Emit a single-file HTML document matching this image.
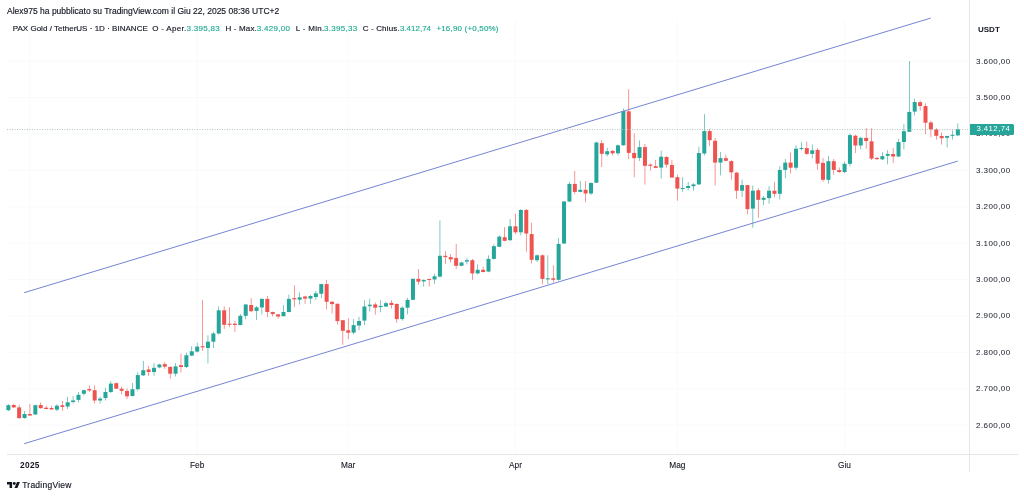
<!DOCTYPE html>
<html><head><meta charset="utf-8"><style>
html,body{margin:0;padding:0;background:#fff;width:1024px;height:497px;overflow:hidden;position:relative;font-family:"Liberation Sans",sans-serif;color:#131722}
.t{position:absolute;white-space:pre;line-height:1;-webkit-text-stroke:0.15px currentColor}
.g{color:#22ab94}
</style></head><body>
<div style="position:absolute;left:0;top:0;width:1024px;height:497px;filter:blur(0.35px)">
<svg width="1024" height="497" style="position:absolute;left:0;top:0">
<line x1="7" y1="454.5" x2="1018" y2="454.5" stroke="#e4e5e9" stroke-width="1"/>
<line x1="969.5" y1="0" x2="969.5" y2="472" stroke="#e4e5e9" stroke-width="1"/>
<line x1="7" y1="61.2" x2="969" y2="61.2" stroke="#f9fafb" stroke-width="1"/>
<line x1="7" y1="97.59" x2="969" y2="97.59" stroke="#f9fafb" stroke-width="1"/>
<line x1="7" y1="133.98" x2="969" y2="133.98" stroke="#f9fafb" stroke-width="1"/>
<line x1="7" y1="170.37" x2="969" y2="170.37" stroke="#f9fafb" stroke-width="1"/>
<line x1="7" y1="206.76" x2="969" y2="206.76" stroke="#f9fafb" stroke-width="1"/>
<line x1="7" y1="243.15" x2="969" y2="243.15" stroke="#f9fafb" stroke-width="1"/>
<line x1="7" y1="279.54" x2="969" y2="279.54" stroke="#f9fafb" stroke-width="1"/>
<line x1="7" y1="315.93" x2="969" y2="315.93" stroke="#f9fafb" stroke-width="1"/>
<line x1="7" y1="352.32" x2="969" y2="352.32" stroke="#f9fafb" stroke-width="1"/>
<line x1="7" y1="388.71" x2="969" y2="388.71" stroke="#f9fafb" stroke-width="1"/>
<line x1="7" y1="425.1" x2="969" y2="425.1" stroke="#f9fafb" stroke-width="1"/>
<line x1="29.8" y1="20" x2="29.8" y2="454" stroke="#f9fafb" stroke-width="1"/>
<line x1="197.2" y1="20" x2="197.2" y2="454" stroke="#f9fafb" stroke-width="1"/>
<line x1="348.2" y1="20" x2="348.2" y2="454" stroke="#f9fafb" stroke-width="1"/>
<line x1="515.5" y1="20" x2="515.5" y2="454" stroke="#f9fafb" stroke-width="1"/>
<line x1="677.5" y1="20" x2="677.5" y2="454" stroke="#f9fafb" stroke-width="1"/>
<line x1="844.5" y1="20" x2="844.5" y2="454" stroke="#f9fafb" stroke-width="1"/>
<rect x="8.05" y="404.20" width="0.6" height="6.80" fill="#26a69a"/>
<rect x="6.35" y="405.20" width="4" height="5.00" fill="#26a69a"/>
<rect x="13.45" y="404.20" width="0.6" height="3.80" fill="#ef5350"/>
<rect x="11.75" y="405.00" width="4" height="2.40" fill="#ef5350"/>
<rect x="18.84" y="404.70" width="0.6" height="14.10" fill="#ef5350"/>
<rect x="17.14" y="407.40" width="4" height="10.70" fill="#ef5350"/>
<rect x="24.23" y="411.00" width="0.6" height="7.80" fill="#26a69a"/>
<rect x="22.54" y="414.00" width="4" height="4.00" fill="#26a69a"/>
<rect x="29.63" y="404.00" width="0.6" height="11.80" fill="#ef5350"/>
<rect x="27.93" y="414.00" width="4" height="1.50" fill="#ef5350"/>
<rect x="35.03" y="404.70" width="0.6" height="10.10" fill="#26a69a"/>
<rect x="33.33" y="405.20" width="4" height="9.30" fill="#26a69a"/>
<rect x="40.42" y="402.40" width="0.6" height="6.10" fill="#ef5350"/>
<rect x="38.72" y="405.00" width="4" height="3.20" fill="#ef5350"/>
<rect x="45.81" y="405.70" width="0.6" height="3.50" fill="#ef5350"/>
<rect x="44.11" y="407.70" width="4" height="1.30" fill="#ef5350"/>
<rect x="51.21" y="405.70" width="0.6" height="4.00" fill="#ef5350"/>
<rect x="49.51" y="408.00" width="4" height="1.40" fill="#ef5350"/>
<rect x="56.61" y="404.20" width="0.6" height="7.00" fill="#26a69a"/>
<rect x="54.91" y="405.70" width="4" height="4.00" fill="#26a69a"/>
<rect x="62.00" y="401.00" width="0.6" height="9.70" fill="#ef5350"/>
<rect x="60.30" y="405.30" width="4" height="1.60" fill="#ef5350"/>
<rect x="67.39" y="396.80" width="0.6" height="12.10" fill="#26a69a"/>
<rect x="65.69" y="402.30" width="4" height="4.20" fill="#26a69a"/>
<rect x="72.79" y="396.20" width="0.6" height="7.30" fill="#26a69a"/>
<rect x="71.09" y="400.50" width="4" height="1.50" fill="#26a69a"/>
<rect x="78.18" y="392.00" width="0.6" height="10.30" fill="#26a69a"/>
<rect x="76.48" y="394.80" width="4" height="5.10" fill="#26a69a"/>
<rect x="83.58" y="389.60" width="0.6" height="6.00" fill="#26a69a"/>
<rect x="81.88" y="390.20" width="4" height="3.60" fill="#26a69a"/>
<rect x="88.98" y="385.40" width="0.6" height="6.60" fill="#ef5350"/>
<rect x="87.28" y="389.00" width="4" height="1.40" fill="#ef5350"/>
<rect x="94.37" y="385.40" width="0.6" height="18.10" fill="#ef5350"/>
<rect x="92.67" y="390.20" width="4" height="10.30" fill="#ef5350"/>
<rect x="99.77" y="396.80" width="0.6" height="6.70" fill="#26a69a"/>
<rect x="98.06" y="398.60" width="4" height="1.90" fill="#26a69a"/>
<rect x="105.16" y="387.80" width="0.6" height="12.70" fill="#26a69a"/>
<rect x="103.46" y="392.00" width="4" height="6.00" fill="#26a69a"/>
<rect x="110.55" y="381.10" width="0.6" height="12.10" fill="#26a69a"/>
<rect x="108.85" y="383.60" width="4" height="8.40" fill="#26a69a"/>
<rect x="115.95" y="382.50" width="0.6" height="6.50" fill="#ef5350"/>
<rect x="114.25" y="383.20" width="4" height="5.50" fill="#ef5350"/>
<rect x="121.34" y="386.60" width="0.6" height="7.80" fill="#ef5350"/>
<rect x="119.64" y="388.70" width="4" height="2.10" fill="#ef5350"/>
<rect x="126.74" y="388.50" width="0.6" height="10.60" fill="#ef5350"/>
<rect x="125.04" y="390.90" width="4" height="5.40" fill="#ef5350"/>
<rect x="132.13" y="382.90" width="0.6" height="13.60" fill="#26a69a"/>
<rect x="130.44" y="389.20" width="4" height="6.80" fill="#26a69a"/>
<rect x="137.53" y="372.30" width="0.6" height="18.30" fill="#26a69a"/>
<rect x="135.83" y="375.10" width="4" height="14.10" fill="#26a69a"/>
<rect x="142.92" y="361.00" width="0.6" height="14.80" fill="#26a69a"/>
<rect x="141.22" y="370.20" width="4" height="5.20" fill="#26a69a"/>
<rect x="148.32" y="366.00" width="0.6" height="9.80" fill="#ef5350"/>
<rect x="146.62" y="369.50" width="4" height="2.50" fill="#ef5350"/>
<rect x="153.71" y="363.10" width="0.6" height="12.70" fill="#26a69a"/>
<rect x="152.01" y="367.80" width="4" height="4.20" fill="#26a69a"/>
<rect x="159.11" y="363.80" width="0.6" height="4.50" fill="#26a69a"/>
<rect x="157.41" y="364.50" width="4" height="2.90" fill="#26a69a"/>
<rect x="164.50" y="362.10" width="0.6" height="6.70" fill="#ef5350"/>
<rect x="162.81" y="364.10" width="4" height="2.60" fill="#ef5350"/>
<rect x="169.90" y="366.40" width="0.6" height="12.20" fill="#ef5350"/>
<rect x="168.20" y="366.90" width="4" height="6.80" fill="#ef5350"/>
<rect x="175.29" y="363.10" width="0.6" height="13.40" fill="#26a69a"/>
<rect x="173.59" y="366.40" width="4" height="7.30" fill="#26a69a"/>
<rect x="180.69" y="353.50" width="0.6" height="19.00" fill="#ef5350"/>
<rect x="178.99" y="365.20" width="4" height="1.80" fill="#ef5350"/>
<rect x="186.08" y="352.50" width="0.6" height="15.50" fill="#26a69a"/>
<rect x="184.38" y="355.30" width="4" height="11.70" fill="#26a69a"/>
<rect x="191.48" y="346.20" width="0.6" height="10.00" fill="#26a69a"/>
<rect x="189.78" y="351.30" width="4" height="4.30" fill="#26a69a"/>
<rect x="196.87" y="342.60" width="0.6" height="9.90" fill="#26a69a"/>
<rect x="195.17" y="346.60" width="4" height="5.00" fill="#26a69a"/>
<rect x="202.27" y="300.00" width="0.6" height="50.70" fill="#ef5350"/>
<rect x="200.57" y="346.20" width="4" height="1.10" fill="#ef5350"/>
<rect x="207.66" y="335.30" width="0.6" height="28.10" fill="#26a69a"/>
<rect x="205.97" y="341.70" width="4" height="6.30" fill="#26a69a"/>
<rect x="213.06" y="331.70" width="0.6" height="16.30" fill="#26a69a"/>
<rect x="211.36" y="333.50" width="4" height="8.20" fill="#26a69a"/>
<rect x="218.45" y="306.30" width="0.6" height="28.10" fill="#26a69a"/>
<rect x="216.75" y="310.30" width="4" height="23.20" fill="#26a69a"/>
<rect x="223.85" y="306.30" width="0.6" height="22.70" fill="#ef5350"/>
<rect x="222.15" y="310.30" width="4" height="14.50" fill="#ef5350"/>
<rect x="229.24" y="307.20" width="0.6" height="20.00" fill="#ef5350"/>
<rect x="227.54" y="323.70" width="4" height="1.10" fill="#ef5350"/>
<rect x="234.64" y="321.00" width="0.6" height="11.00" fill="#ef5350"/>
<rect x="232.94" y="323.70" width="4" height="1.30" fill="#ef5350"/>
<rect x="240.03" y="314.00" width="0.6" height="11.30" fill="#26a69a"/>
<rect x="238.33" y="315.80" width="4" height="9.20" fill="#26a69a"/>
<rect x="245.43" y="303.80" width="0.6" height="15.50" fill="#26a69a"/>
<rect x="243.73" y="304.50" width="4" height="11.30" fill="#26a69a"/>
<rect x="250.82" y="298.20" width="0.6" height="14.10" fill="#ef5350"/>
<rect x="249.12" y="305.00" width="4" height="6.20" fill="#ef5350"/>
<rect x="256.22" y="306.00" width="0.6" height="14.00" fill="#26a69a"/>
<rect x="254.52" y="307.40" width="4" height="3.50" fill="#26a69a"/>
<rect x="261.61" y="298.20" width="0.6" height="16.20" fill="#26a69a"/>
<rect x="259.91" y="298.90" width="4" height="8.50" fill="#26a69a"/>
<rect x="267.01" y="296.10" width="0.6" height="21.10" fill="#ef5350"/>
<rect x="265.31" y="298.90" width="4" height="13.10" fill="#ef5350"/>
<rect x="272.40" y="311.60" width="0.6" height="4.90" fill="#ef5350"/>
<rect x="270.70" y="312.00" width="4" height="2.00" fill="#ef5350"/>
<rect x="277.80" y="314.00" width="0.6" height="4.60" fill="#ef5350"/>
<rect x="276.10" y="314.40" width="4" height="2.10" fill="#ef5350"/>
<rect x="283.19" y="305.00" width="0.6" height="11.50" fill="#26a69a"/>
<rect x="281.49" y="312.00" width="4" height="4.20" fill="#26a69a"/>
<rect x="288.59" y="294.70" width="0.6" height="17.60" fill="#26a69a"/>
<rect x="286.89" y="298.90" width="4" height="13.10" fill="#26a69a"/>
<rect x="293.98" y="285.30" width="0.6" height="21.70" fill="#ef5350"/>
<rect x="292.28" y="298.10" width="4" height="1.20" fill="#ef5350"/>
<rect x="299.38" y="292.50" width="0.6" height="12.10" fill="#26a69a"/>
<rect x="297.68" y="297.30" width="4" height="2.40" fill="#26a69a"/>
<rect x="304.77" y="295.70" width="0.6" height="8.10" fill="#ef5350"/>
<rect x="303.07" y="296.50" width="4" height="2.10" fill="#ef5350"/>
<rect x="310.17" y="295.00" width="0.6" height="8.80" fill="#26a69a"/>
<rect x="308.47" y="296.00" width="4" height="2.60" fill="#26a69a"/>
<rect x="315.56" y="290.90" width="0.6" height="8.80" fill="#26a69a"/>
<rect x="313.87" y="293.30" width="4" height="3.70" fill="#26a69a"/>
<rect x="320.96" y="283.70" width="0.6" height="14.40" fill="#26a69a"/>
<rect x="319.26" y="284.10" width="4" height="9.70" fill="#26a69a"/>
<rect x="326.35" y="280.00" width="0.6" height="29.40" fill="#ef5350"/>
<rect x="324.65" y="284.10" width="4" height="17.70" fill="#ef5350"/>
<rect x="331.75" y="300.90" width="0.6" height="12.50" fill="#ef5350"/>
<rect x="330.05" y="301.80" width="4" height="2.30" fill="#ef5350"/>
<rect x="337.14" y="303.40" width="0.6" height="21.30" fill="#ef5350"/>
<rect x="335.44" y="303.80" width="4" height="17.30" fill="#ef5350"/>
<rect x="342.54" y="319.80" width="0.6" height="25.00" fill="#ef5350"/>
<rect x="340.84" y="320.20" width="4" height="10.60" fill="#ef5350"/>
<rect x="347.93" y="318.20" width="0.6" height="20.90" fill="#ef5350"/>
<rect x="346.23" y="330.30" width="4" height="2.40" fill="#ef5350"/>
<rect x="353.33" y="319.10" width="0.6" height="15.10" fill="#26a69a"/>
<rect x="351.63" y="325.10" width="4" height="7.50" fill="#26a69a"/>
<rect x="358.72" y="316.80" width="0.6" height="13.60" fill="#26a69a"/>
<rect x="357.02" y="321.00" width="4" height="4.50" fill="#26a69a"/>
<rect x="364.12" y="300.20" width="0.6" height="24.90" fill="#26a69a"/>
<rect x="362.42" y="306.50" width="4" height="14.10" fill="#26a69a"/>
<rect x="369.51" y="298.70" width="0.6" height="12.80" fill="#26a69a"/>
<rect x="367.81" y="304.70" width="4" height="1.50" fill="#26a69a"/>
<rect x="374.91" y="302.50" width="0.6" height="12.00" fill="#ef5350"/>
<rect x="373.21" y="304.40" width="4" height="3.30" fill="#ef5350"/>
<rect x="380.30" y="300.20" width="0.6" height="12.10" fill="#26a69a"/>
<rect x="378.60" y="305.90" width="4" height="1.20" fill="#26a69a"/>
<rect x="385.70" y="301.70" width="0.6" height="5.30" fill="#26a69a"/>
<rect x="384.00" y="303.20" width="4" height="3.30" fill="#26a69a"/>
<rect x="391.09" y="300.20" width="0.6" height="8.30" fill="#ef5350"/>
<rect x="389.39" y="302.90" width="4" height="2.10" fill="#ef5350"/>
<rect x="396.49" y="303.20" width="0.6" height="19.60" fill="#ef5350"/>
<rect x="394.79" y="304.00" width="4" height="15.10" fill="#ef5350"/>
<rect x="401.88" y="306.20" width="0.6" height="14.40" fill="#26a69a"/>
<rect x="400.19" y="307.70" width="4" height="11.40" fill="#26a69a"/>
<rect x="407.28" y="297.90" width="0.6" height="16.60" fill="#26a69a"/>
<rect x="405.58" y="299.90" width="4" height="7.80" fill="#26a69a"/>
<rect x="412.67" y="278.50" width="0.6" height="21.70" fill="#26a69a"/>
<rect x="410.97" y="278.80" width="4" height="21.00" fill="#26a69a"/>
<rect x="418.07" y="269.00" width="0.6" height="15.80" fill="#ef5350"/>
<rect x="416.37" y="278.80" width="4" height="2.90" fill="#ef5350"/>
<rect x="423.46" y="279.40" width="0.6" height="7.20" fill="#26a69a"/>
<rect x="421.76" y="279.90" width="4" height="1.50" fill="#26a69a"/>
<rect x="428.86" y="278.50" width="0.6" height="8.10" fill="#ef5350"/>
<rect x="427.16" y="279.00" width="4" height="1.00" fill="#ef5350"/>
<rect x="434.25" y="273.90" width="0.6" height="10.00" fill="#26a69a"/>
<rect x="432.55" y="276.30" width="4" height="3.10" fill="#26a69a"/>
<rect x="439.65" y="220.40" width="0.6" height="57.10" fill="#26a69a"/>
<rect x="437.95" y="255.80" width="4" height="20.80" fill="#26a69a"/>
<rect x="445.04" y="251.30" width="0.6" height="12.70" fill="#ef5350"/>
<rect x="443.34" y="255.80" width="4" height="1.30" fill="#ef5350"/>
<rect x="450.44" y="254.00" width="0.6" height="8.50" fill="#ef5350"/>
<rect x="448.74" y="257.10" width="4" height="2.30" fill="#ef5350"/>
<rect x="455.83" y="244.00" width="0.6" height="25.00" fill="#ef5350"/>
<rect x="454.13" y="258.10" width="4" height="7.70" fill="#ef5350"/>
<rect x="461.23" y="261.80" width="0.6" height="4.30" fill="#26a69a"/>
<rect x="459.53" y="262.50" width="4" height="3.30" fill="#26a69a"/>
<rect x="466.62" y="258.00" width="0.6" height="6.40" fill="#26a69a"/>
<rect x="464.92" y="260.20" width="4" height="1.40" fill="#26a69a"/>
<rect x="472.02" y="258.90" width="0.6" height="20.90" fill="#ef5350"/>
<rect x="470.32" y="260.20" width="4" height="13.20" fill="#ef5350"/>
<rect x="477.41" y="264.40" width="0.6" height="9.90" fill="#26a69a"/>
<rect x="475.71" y="269.80" width="4" height="3.60" fill="#26a69a"/>
<rect x="482.81" y="266.70" width="0.6" height="5.80" fill="#ef5350"/>
<rect x="481.11" y="269.80" width="4" height="2.20" fill="#ef5350"/>
<rect x="488.20" y="255.30" width="0.6" height="16.90" fill="#26a69a"/>
<rect x="486.50" y="258.90" width="4" height="12.70" fill="#26a69a"/>
<rect x="493.60" y="244.40" width="0.6" height="15.10" fill="#26a69a"/>
<rect x="491.90" y="246.20" width="4" height="12.70" fill="#26a69a"/>
<rect x="498.99" y="235.40" width="0.6" height="11.70" fill="#26a69a"/>
<rect x="497.29" y="236.60" width="4" height="10.20" fill="#26a69a"/>
<rect x="504.39" y="227.20" width="0.6" height="14.10" fill="#ef5350"/>
<rect x="502.69" y="237.20" width="4" height="3.60" fill="#ef5350"/>
<rect x="509.78" y="219.00" width="0.6" height="21.80" fill="#26a69a"/>
<rect x="508.08" y="226.30" width="4" height="13.90" fill="#26a69a"/>
<rect x="515.18" y="213.60" width="0.6" height="20.50" fill="#ef5350"/>
<rect x="513.48" y="226.30" width="4" height="6.00" fill="#ef5350"/>
<rect x="520.57" y="209.00" width="0.6" height="26.40" fill="#26a69a"/>
<rect x="518.87" y="210.00" width="4" height="22.30" fill="#26a69a"/>
<rect x="525.97" y="209.00" width="0.6" height="42.70" fill="#ef5350"/>
<rect x="524.27" y="210.00" width="4" height="23.50" fill="#ef5350"/>
<rect x="531.37" y="222.70" width="0.6" height="40.80" fill="#ef5350"/>
<rect x="529.66" y="234.10" width="4" height="25.70" fill="#ef5350"/>
<rect x="536.76" y="254.40" width="0.6" height="7.60" fill="#26a69a"/>
<rect x="535.06" y="255.30" width="4" height="4.90" fill="#26a69a"/>
<rect x="542.15" y="254.40" width="0.6" height="29.90" fill="#ef5350"/>
<rect x="540.45" y="255.30" width="4" height="23.60" fill="#ef5350"/>
<rect x="547.55" y="255.30" width="0.6" height="29.00" fill="#26a69a"/>
<rect x="545.85" y="278.30" width="4" height="1.10" fill="#26a69a"/>
<rect x="552.94" y="265.30" width="0.6" height="17.20" fill="#ef5350"/>
<rect x="551.24" y="278.30" width="4" height="1.50" fill="#ef5350"/>
<rect x="558.34" y="238.10" width="0.6" height="42.60" fill="#26a69a"/>
<rect x="556.64" y="243.90" width="4" height="35.90" fill="#26a69a"/>
<rect x="563.73" y="200.90" width="0.6" height="43.00" fill="#26a69a"/>
<rect x="562.03" y="201.50" width="4" height="42.00" fill="#26a69a"/>
<rect x="569.13" y="181.80" width="0.6" height="20.20" fill="#26a69a"/>
<rect x="567.43" y="183.90" width="4" height="17.60" fill="#26a69a"/>
<rect x="574.52" y="171.00" width="0.6" height="23.30" fill="#ef5350"/>
<rect x="572.82" y="183.90" width="4" height="8.00" fill="#ef5350"/>
<rect x="579.92" y="181.10" width="0.6" height="11.30" fill="#26a69a"/>
<rect x="578.22" y="189.80" width="4" height="2.10" fill="#26a69a"/>
<rect x="585.31" y="181.10" width="0.6" height="21.20" fill="#ef5350"/>
<rect x="583.61" y="189.80" width="4" height="3.70" fill="#ef5350"/>
<rect x="590.71" y="182.30" width="0.6" height="12.80" fill="#26a69a"/>
<rect x="589.01" y="183.00" width="4" height="10.50" fill="#26a69a"/>
<rect x="596.10" y="141.60" width="0.6" height="41.40" fill="#26a69a"/>
<rect x="594.40" y="142.50" width="4" height="40.20" fill="#26a69a"/>
<rect x="601.50" y="140.00" width="0.6" height="27.00" fill="#ef5350"/>
<rect x="599.80" y="143.20" width="4" height="10.60" fill="#ef5350"/>
<rect x="606.89" y="147.70" width="0.6" height="8.80" fill="#26a69a"/>
<rect x="605.19" y="151.20" width="4" height="3.20" fill="#26a69a"/>
<rect x="612.29" y="150.10" width="0.6" height="5.30" fill="#ef5350"/>
<rect x="610.59" y="150.90" width="4" height="2.40" fill="#ef5350"/>
<rect x="617.68" y="144.50" width="0.6" height="10.90" fill="#26a69a"/>
<rect x="615.98" y="145.30" width="4" height="8.00" fill="#26a69a"/>
<rect x="623.08" y="108.50" width="0.6" height="37.10" fill="#26a69a"/>
<rect x="621.38" y="111.00" width="4" height="34.30" fill="#26a69a"/>
<rect x="628.47" y="89.20" width="0.6" height="70.00" fill="#ef5350"/>
<rect x="626.77" y="111.30" width="4" height="41.60" fill="#ef5350"/>
<rect x="633.87" y="133.30" width="0.6" height="44.00" fill="#ef5350"/>
<rect x="632.17" y="152.90" width="4" height="5.30" fill="#ef5350"/>
<rect x="639.26" y="140.40" width="0.6" height="20.60" fill="#26a69a"/>
<rect x="637.56" y="147.10" width="4" height="10.80" fill="#26a69a"/>
<rect x="644.66" y="144.00" width="0.6" height="40.50" fill="#ef5350"/>
<rect x="642.96" y="147.10" width="4" height="18.70" fill="#ef5350"/>
<rect x="650.05" y="163.40" width="0.6" height="7.20" fill="#ef5350"/>
<rect x="648.35" y="164.60" width="4" height="1.20" fill="#ef5350"/>
<rect x="655.45" y="159.80" width="0.6" height="8.40" fill="#ef5350"/>
<rect x="653.75" y="166.20" width="4" height="1.70" fill="#ef5350"/>
<rect x="660.84" y="150.70" width="0.6" height="27.80" fill="#26a69a"/>
<rect x="659.14" y="156.70" width="4" height="10.90" fill="#26a69a"/>
<rect x="666.24" y="156.10" width="0.6" height="11.50" fill="#ef5350"/>
<rect x="664.54" y="157.00" width="4" height="7.60" fill="#ef5350"/>
<rect x="671.63" y="159.80" width="0.6" height="18.10" fill="#ef5350"/>
<rect x="669.93" y="165.00" width="4" height="12.50" fill="#ef5350"/>
<rect x="677.03" y="174.80" width="0.6" height="25.90" fill="#ef5350"/>
<rect x="675.33" y="177.20" width="4" height="11.40" fill="#ef5350"/>
<rect x="682.42" y="177.20" width="0.6" height="14.50" fill="#26a69a"/>
<rect x="680.72" y="188.00" width="4" height="1.00" fill="#26a69a"/>
<rect x="687.82" y="182.00" width="0.6" height="8.50" fill="#26a69a"/>
<rect x="686.12" y="186.00" width="4" height="2.00" fill="#26a69a"/>
<rect x="693.21" y="183.20" width="0.6" height="7.30" fill="#26a69a"/>
<rect x="691.51" y="184.40" width="4" height="1.80" fill="#26a69a"/>
<rect x="698.61" y="146.80" width="0.6" height="38.20" fill="#26a69a"/>
<rect x="696.91" y="153.00" width="4" height="31.40" fill="#26a69a"/>
<rect x="704.00" y="114.20" width="0.6" height="41.10" fill="#26a69a"/>
<rect x="702.30" y="131.10" width="4" height="22.40" fill="#26a69a"/>
<rect x="709.40" y="128.70" width="0.6" height="17.50" fill="#ef5350"/>
<rect x="707.70" y="131.10" width="4" height="9.10" fill="#ef5350"/>
<rect x="714.79" y="138.00" width="0.6" height="47.60" fill="#ef5350"/>
<rect x="713.09" y="140.80" width="4" height="21.80" fill="#ef5350"/>
<rect x="720.19" y="152.20" width="0.6" height="23.20" fill="#26a69a"/>
<rect x="718.49" y="158.10" width="4" height="4.50" fill="#26a69a"/>
<rect x="725.58" y="154.70" width="0.6" height="6.60" fill="#ef5350"/>
<rect x="723.88" y="158.20" width="4" height="2.60" fill="#ef5350"/>
<rect x="730.98" y="160.30" width="0.6" height="19.30" fill="#ef5350"/>
<rect x="729.28" y="161.10" width="4" height="11.20" fill="#ef5350"/>
<rect x="736.37" y="172.00" width="0.6" height="26.80" fill="#ef5350"/>
<rect x="734.67" y="172.70" width="4" height="18.00" fill="#ef5350"/>
<rect x="741.77" y="179.70" width="0.6" height="17.20" fill="#26a69a"/>
<rect x="740.07" y="185.10" width="4" height="5.60" fill="#26a69a"/>
<rect x="747.16" y="184.70" width="0.6" height="29.60" fill="#ef5350"/>
<rect x="745.46" y="185.10" width="4" height="24.00" fill="#ef5350"/>
<rect x="752.56" y="185.40" width="0.6" height="42.30" fill="#26a69a"/>
<rect x="750.86" y="190.70" width="4" height="17.90" fill="#26a69a"/>
<rect x="757.95" y="188.20" width="0.6" height="29.60" fill="#ef5350"/>
<rect x="756.25" y="190.30" width="4" height="9.50" fill="#ef5350"/>
<rect x="763.35" y="196.00" width="0.6" height="9.10" fill="#26a69a"/>
<rect x="761.65" y="197.80" width="4" height="2.00" fill="#26a69a"/>
<rect x="768.74" y="186.10" width="0.6" height="17.60" fill="#26a69a"/>
<rect x="767.04" y="190.70" width="4" height="7.40" fill="#26a69a"/>
<rect x="774.14" y="181.80" width="0.6" height="15.60" fill="#ef5350"/>
<rect x="772.44" y="190.70" width="4" height="3.10" fill="#ef5350"/>
<rect x="779.53" y="166.30" width="0.6" height="33.20" fill="#26a69a"/>
<rect x="777.83" y="169.90" width="4" height="23.90" fill="#26a69a"/>
<rect x="784.93" y="159.00" width="0.6" height="19.30" fill="#26a69a"/>
<rect x="783.23" y="162.60" width="4" height="7.30" fill="#26a69a"/>
<rect x="790.32" y="152.30" width="0.6" height="21.20" fill="#ef5350"/>
<rect x="788.62" y="162.60" width="4" height="5.10" fill="#ef5350"/>
<rect x="795.72" y="145.10" width="0.6" height="24.80" fill="#26a69a"/>
<rect x="794.02" y="148.70" width="4" height="19.00" fill="#26a69a"/>
<rect x="801.11" y="142.10" width="0.6" height="8.40" fill="#26a69a"/>
<rect x="799.41" y="147.90" width="4" height="1.00" fill="#26a69a"/>
<rect x="806.51" y="141.50" width="0.6" height="13.30" fill="#ef5350"/>
<rect x="804.81" y="148.10" width="4" height="5.80" fill="#ef5350"/>
<rect x="811.90" y="144.50" width="0.6" height="13.90" fill="#26a69a"/>
<rect x="810.20" y="150.30" width="4" height="3.60" fill="#26a69a"/>
<rect x="817.30" y="148.10" width="0.6" height="21.80" fill="#ef5350"/>
<rect x="815.60" y="149.90" width="4" height="13.70" fill="#ef5350"/>
<rect x="822.69" y="157.80" width="0.6" height="24.10" fill="#ef5350"/>
<rect x="820.99" y="162.90" width="4" height="16.90" fill="#ef5350"/>
<rect x="828.09" y="156.00" width="0.6" height="27.70" fill="#26a69a"/>
<rect x="826.39" y="161.20" width="4" height="18.60" fill="#26a69a"/>
<rect x="833.48" y="159.00" width="0.6" height="15.70" fill="#ef5350"/>
<rect x="831.78" y="161.20" width="4" height="8.70" fill="#ef5350"/>
<rect x="838.88" y="167.40" width="0.6" height="5.50" fill="#ef5350"/>
<rect x="837.18" y="170.10" width="4" height="1.90" fill="#ef5350"/>
<rect x="844.27" y="161.50" width="0.6" height="11.70" fill="#26a69a"/>
<rect x="842.57" y="163.80" width="4" height="8.20" fill="#26a69a"/>
<rect x="849.67" y="133.30" width="0.6" height="33.10" fill="#26a69a"/>
<rect x="847.97" y="135.10" width="4" height="28.70" fill="#26a69a"/>
<rect x="855.06" y="134.70" width="0.6" height="18.30" fill="#ef5350"/>
<rect x="853.36" y="135.70" width="4" height="9.80" fill="#ef5350"/>
<rect x="860.46" y="136.80" width="0.6" height="12.70" fill="#26a69a"/>
<rect x="858.76" y="137.90" width="4" height="7.60" fill="#26a69a"/>
<rect x="865.85" y="128.00" width="0.6" height="20.80" fill="#ef5350"/>
<rect x="864.15" y="137.90" width="4" height="3.10" fill="#ef5350"/>
<rect x="871.25" y="128.30" width="0.6" height="31.70" fill="#ef5350"/>
<rect x="869.55" y="141.30" width="4" height="17.30" fill="#ef5350"/>
<rect x="876.64" y="157.20" width="0.6" height="2.80" fill="#ef5350"/>
<rect x="874.94" y="157.90" width="4" height="1.20" fill="#ef5350"/>
<rect x="882.04" y="152.30" width="0.6" height="7.70" fill="#26a69a"/>
<rect x="880.34" y="156.20" width="4" height="3.10" fill="#26a69a"/>
<rect x="887.43" y="150.20" width="0.6" height="14.10" fill="#26a69a"/>
<rect x="885.73" y="154.00" width="4" height="1.80" fill="#26a69a"/>
<rect x="892.83" y="148.10" width="0.6" height="14.80" fill="#ef5350"/>
<rect x="891.13" y="154.00" width="4" height="2.50" fill="#ef5350"/>
<rect x="898.22" y="138.90" width="0.6" height="18.30" fill="#26a69a"/>
<rect x="896.52" y="142.10" width="4" height="14.40" fill="#26a69a"/>
<rect x="903.62" y="124.00" width="0.6" height="25.30" fill="#26a69a"/>
<rect x="901.92" y="131.20" width="4" height="10.80" fill="#26a69a"/>
<rect x="909.01" y="61.00" width="0.6" height="70.80" fill="#26a69a"/>
<rect x="907.31" y="111.90" width="4" height="19.90" fill="#26a69a"/>
<rect x="914.41" y="98.60" width="0.6" height="16.90" fill="#26a69a"/>
<rect x="912.71" y="102.00" width="4" height="9.60" fill="#26a69a"/>
<rect x="919.80" y="100.40" width="0.6" height="10.30" fill="#ef5350"/>
<rect x="918.10" y="102.20" width="4" height="3.90" fill="#ef5350"/>
<rect x="925.20" y="103.40" width="0.6" height="30.80" fill="#ef5350"/>
<rect x="923.50" y="106.10" width="4" height="16.60" fill="#ef5350"/>
<rect x="930.59" y="120.90" width="0.6" height="16.30" fill="#ef5350"/>
<rect x="928.89" y="122.50" width="4" height="6.90" fill="#ef5350"/>
<rect x="935.99" y="128.20" width="0.6" height="11.40" fill="#ef5350"/>
<rect x="934.29" y="129.40" width="4" height="6.40" fill="#ef5350"/>
<rect x="941.38" y="132.40" width="0.6" height="12.10" fill="#ef5350"/>
<rect x="939.68" y="136.00" width="4" height="2.20" fill="#ef5350"/>
<rect x="946.78" y="136.00" width="0.6" height="11.50" fill="#26a69a"/>
<rect x="945.08" y="136.00" width="4" height="1.80" fill="#26a69a"/>
<rect x="952.17" y="130.60" width="0.6" height="9.00" fill="#26a69a"/>
<rect x="950.47" y="134.80" width="4" height="1.00" fill="#26a69a"/>
<rect x="957.57" y="123.30" width="0.6" height="12.30" fill="#26a69a"/>
<rect x="955.87" y="129.20" width="4" height="6.20" fill="#26a69a"/>
<line x1="24.1" y1="292.7" x2="930.7" y2="18.1" stroke="#7584d4" stroke-width="1"/>
<line x1="24.1" y1="443.7" x2="957.8" y2="161.1" stroke="#7584d4" stroke-width="1"/>
<line x1="7" y1="129.6" x2="969" y2="129.6" stroke="#aebfbc" stroke-width="1" stroke-dasharray="1 1.5"/>
</svg>
<div class="t" style="left:7px;top:7px;font-size:8.5px;letter-spacing:0px">Alex975 ha pubblicato su TradingView.com il Giu 22, 2025 08:36 UTC+2</div>
<div class="t" style="left:12.7px;top:25.2px;font-size:8px;letter-spacing:0.02px">PAX Gold / TetherUS · 1D · BINANCE</div>
<div class="t" style="left:152.2px;top:25.2px;font-size:8px;letter-spacing:0.3px">O - Aper.</div>
<div class="t g" style="left:186.4px;top:25.2px;font-size:8px;letter-spacing:0.3px">3.395,83</div>
<div class="t" style="left:225.5px;top:25.2px;font-size:8px;letter-spacing:0.15px">H - Max.</div>
<div class="t g" style="left:256.7px;top:25.2px;font-size:8px;letter-spacing:0.3px">3.429,00</div>
<div class="t" style="left:295.8px;top:25.2px;font-size:8px;letter-spacing:0.3px">L - Min.</div>
<div class="t g" style="left:324px;top:25.2px;font-size:8px;letter-spacing:0.3px">3.395,33</div>
<div class="t" style="left:362.7px;top:25.2px;font-size:8px;letter-spacing:0.15px">C - Chius.</div>
<div class="t g" style="left:399.9px;top:25.2px;font-size:8px;letter-spacing:0px">3.412,74</div>
<div class="t g" style="left:436.4px;top:25.2px;font-size:8px;letter-spacing:0.18px">+16,90 (+0,50%)</div>
<div class="t" style="left:978px;top:26px;font-size:8px;font-weight:bold;-webkit-text-stroke:0">USDT</div>
<div class="t" style="left:976px;top:57.6px;font-size:8px;letter-spacing:0.43px;-webkit-text-stroke:0.05px;color:#2a2e39">3.600,00</div>
<div class="t" style="left:976px;top:94.0px;font-size:8px;letter-spacing:0.43px;-webkit-text-stroke:0.05px;color:#2a2e39">3.500,00</div>
<div class="t" style="left:976px;top:130.4px;font-size:8px;letter-spacing:0.43px;-webkit-text-stroke:0.05px;color:#2a2e39">3.400,00</div>
<div class="t" style="left:976px;top:166.8px;font-size:8px;letter-spacing:0.43px;-webkit-text-stroke:0.05px;color:#2a2e39">3.300,00</div>
<div class="t" style="left:976px;top:203.2px;font-size:8px;letter-spacing:0.43px;-webkit-text-stroke:0.05px;color:#2a2e39">3.200,00</div>
<div class="t" style="left:976px;top:239.6px;font-size:8px;letter-spacing:0.43px;-webkit-text-stroke:0.05px;color:#2a2e39">3.100,00</div>
<div class="t" style="left:976px;top:275.9px;font-size:8px;letter-spacing:0.43px;-webkit-text-stroke:0.05px;color:#2a2e39">3.000,00</div>
<div class="t" style="left:976px;top:312.3px;font-size:8px;letter-spacing:0.43px;-webkit-text-stroke:0.05px;color:#2a2e39">2.900,00</div>
<div class="t" style="left:976px;top:348.7px;font-size:8px;letter-spacing:0.43px;-webkit-text-stroke:0.05px;color:#2a2e39">2.800,00</div>
<div class="t" style="left:976px;top:385.1px;font-size:8px;letter-spacing:0.43px;-webkit-text-stroke:0.05px;color:#2a2e39">2.700,00</div>
<div class="t" style="left:976px;top:421.5px;font-size:8px;letter-spacing:0.43px;-webkit-text-stroke:0.05px;color:#2a2e39">2.600,00</div>
<div style="position:absolute;left:970px;top:124.2px;width:44px;height:10.8px;background:#26a69a;border-radius:0 1.5px 1.5px 0"></div>
<div class="t" style="left:976.4px;top:125.4px;font-size:7.8px;letter-spacing:0.45px;color:#fff;-webkit-text-stroke:0">3.412,74</div>
<div class="t" style="left:-0.10000000000000142px;width:60px;text-align:center;top:460.5px;font-size:8.3px;font-weight:bold;letter-spacing:0.3px;-webkit-text-stroke:0;">2025</div>
<div class="t" style="left:167.2px;width:60px;text-align:center;top:460.5px;font-size:8.3px;-webkit-text-stroke:0.1px;">Feb</div>
<div class="t" style="left:318.2px;width:60px;text-align:center;top:460.5px;font-size:8.3px;-webkit-text-stroke:0.1px;">Mar</div>
<div class="t" style="left:485.5px;width:60px;text-align:center;top:460.5px;font-size:8.3px;-webkit-text-stroke:0.1px;">Apr</div>
<div class="t" style="left:647.3px;width:60px;text-align:center;top:460.5px;font-size:8.3px;-webkit-text-stroke:0.1px;">Mag</div>
<div class="t" style="left:814.5px;width:60px;text-align:center;top:460.5px;font-size:8.3px;-webkit-text-stroke:0.1px;">Giu</div>
<svg width="13.1" height="6.55" style="position:absolute;left:6.9px;top:481.6px" viewBox="0 4 36 18" preserveAspectRatio="none"><path fill="#131722" d="M14 22H7V11H0V4h14v18zM28 22h-8l7.5-18h8L28 22z"/><circle fill="#131722" cx="20" cy="8" r="4"/></svg>
<div class="t" style="left:22.2px;top:481.3px;font-size:8.5px;letter-spacing:0.25px">TradingView</div>
</div></body></html>
